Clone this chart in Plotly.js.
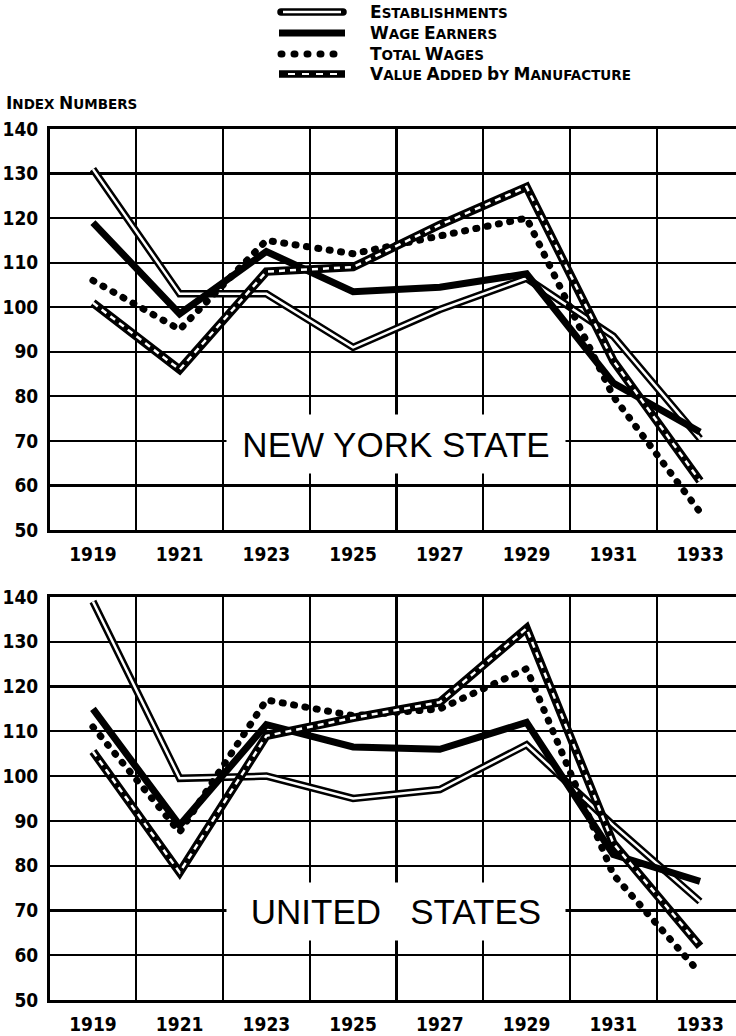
<!DOCTYPE html>
<html><head><meta charset="utf-8">
<script src="https://cdn.plot.ly/plotly-3.0.1.min.js"></script>
<style>html,body{margin:0;padding:0;background:#fff}#chart{width:736px;height:1036px}</style>
</head><body><div id="chart"></div>
<script>
// ---- data ----
const years = [1919, 1921, 1923, 1925, 1927, 1929, 1931, 1933];
const yearLabels = ['1919', '1921', '1923', '1925', '1927', '1929', '1931', '1933'];
const gridYears = [1918, 1920, 1922, 1924, 1926, 1928, 1930, 1932, 1934];
const yTicks = [50, 60, 70, 80, 90, 100, 110, 120, 130, 140];

const nyEstablishments = [131, 103, 103, 91, 99.5, 106.5, 93.5, 70.5];
const nyWageEarners    = [119, 98.5, 112.5, 103.5, 104.5, 107.5, 83, 72];
const nyTotalWages     = [106, 95, 115, 112, 116, 120, 80, 54];
const nyValueAdded     = [101, 86, 108, 109, 118.5, 127, 88, 61];

const usEstablishments = [139, 99.5, 100, 95, 97, 107, 89, 72];
const usWageEarners    = [115, 89, 111.5, 106.5, 106, 112, 82.5, 76.5];
const usTotalWages     = [111, 87.5, 117, 113.5, 115, 124, 78, 56];
const usValueAdded     = [105.5, 78.5, 109, 113, 116.5, 133, 85, 62];

const seriesNames = ['Establishments', 'Wage Earners', 'Total Wages', 'Value Added by Manufacture'];

// ---- layout helpers ----
const W = 736, H = 1036, ML = 50;
const px2x = p => (p - ML) / (W - ML);
const px2y = p => 1 - p / H;
const TICKFONT = {family: 'DejaVu Sans Condensed, Liberation Sans Narrow, DejaVu Sans, sans-serif', size: 19, color: '#000', weight: 700};
const DOT = '1px,10.5px';

function traceSet(xa, ya, est, wage, tot, val) {
  const base = {x: years, xaxis: xa, yaxis: ya, mode: 'lines', hoverinfo: 'skip'};
  return [
    Object.assign({}, base, {y: est, name: seriesNames[0], line: {color: '#000', width: 7.5}}),
    Object.assign({}, base, {y: est, name: seriesNames[0], line: {color: '#fff', width: 2.5}}),
    Object.assign({}, base, {y: wage, name: seriesNames[1], line: {color: '#000', width: 7}}),
    Object.assign({}, base, {y: tot, name: seriesNames[2], line: {color: '#000', width: 7, dash: DOT}}),
    Object.assign({}, base, {y: val, name: seriesNames[3], line: {color: '#000', width: 8.5}}),
    Object.assign({}, base, {y: val, name: seriesNames[3], line: {color: '#fff', width: 2.5, dash: '6px,5px'}})
  ];
}

const data = [].concat(
  traceSet('x', 'y', nyEstablishments, nyWageEarners, nyTotalWages, nyValueAdded),
  traceSet('x2', 'y2', usEstablishments, usWageEarners, usTotalWages, usValueAdded)
);

function xAxis(anchor) {
  return {
    anchor: anchor, domain: [0, 1], range: [1918.01, 1933.83],
    tickmode: 'array', tickvals: years, ticktext: yearLabels,
    showgrid: false, ticks: '', tickfont: TICKFONT, ticklabelstandoff: 5,
    showline: true, linewidth: 3, linecolor: '#000', mirror: true, zeroline: false,
    minor: {tickmode: 'array', tickvals: gridYears, showgrid: true, gridcolor: '#000', gridwidth: 2.2, ticks: ''},
    fixedrange: true
  };
}
function yAxis(anchor, dom) {
  return {
    anchor: anchor, domain: dom, range: [50, 140],
    tickmode: 'array', tickvals: yTicks, ticktext: yTicks.map(String),
    showgrid: true, gridcolor: '#000', gridwidth: 2.2, ticks: '', tickfont: TICKFONT, ticklabelstandoff: 5,
    showline: true, linewidth: 3, linecolor: '#000', zeroline: false, fixedrange: true
  };
}

// small-caps style text
function smallCaps(str, big, small) {
  return str.split(' ').map(w => '<span style="font-size:' + big + 'px">' + w[0] + '</span>' +
    '<span style="font-size:' + small + 'px">' + w.slice(1).toUpperCase() + '</span>').join(' ');
}
const LEGFONT = {family: 'DejaVu Sans, sans-serif', size: 13, color: '#000', weight: 700};

const legendY = [12, 33, 54, 74];
const legX0 = 279, legX1 = 345, legText = 368;
const shapes = [
  {type: 'line', xref: 'paper', yref: 'paper', x0: px2x(legX0 + 2), x1: px2x(legX1 - 2), y0: px2y(legendY[0]), y1: px2y(legendY[0]), line: {color: '#000', width: 7.5}},
  {type: 'line', xref: 'paper', yref: 'paper', x0: px2x(legX0 + 4), x1: px2x(legX1 - 4), y0: px2y(legendY[0]), y1: px2y(legendY[0]), line: {color: '#fff', width: 2.5}},
  {type: 'line', xref: 'paper', yref: 'paper', x0: px2x(legX0), x1: px2x(legX1), y0: px2y(legendY[1]), y1: px2y(legendY[1]), line: {color: '#000', width: 7}},
  {type: 'line', xref: 'paper', yref: 'paper', x0: px2x(legX0 + 2), x1: px2x(legX1), y0: px2y(legendY[2]), y1: px2y(legendY[2]), line: {color: '#000', width: 7, dash: '1px,12px'}},
  {type: 'line', xref: 'paper', yref: 'paper', x0: px2x(legX0), x1: px2x(legX1), y0: px2y(legendY[3]), y1: px2y(legendY[3]), line: {color: '#000', width: 7.5}},
  {type: 'line', xref: 'paper', yref: 'paper', x0: px2x(legX0 + 9), x1: px2x(legX1 - 6), y0: px2y(legendY[3]), y1: px2y(legendY[3]), line: {color: '#fff', width: 2, dash: '7px,7px'}}
];

const annotations = seriesNames.map((n, i) => ({
  xref: 'paper', yref: 'paper', x: px2x(legText), y: px2y(legendY[i]), xanchor: 'left', yanchor: 'middle',
  text: smallCaps(n, 17, 13.5), showarrow: false, font: LEGFONT
}));
annotations.push({
  xref: 'paper', yref: 'paper', x: px2x(4), y: px2y(103), xanchor: 'left', yanchor: 'middle',
  text: smallCaps('Index Numbers', 17, 13.5), showarrow: false, font: LEGFONT
});
const BOXFONT = {family: 'Liberation Sans, Arial, sans-serif', size: 35, color: '#000'};
annotations.push({
  xref: 'x', yref: 'y', x: 1926, y: 69.3, text: 'NEW YORK STATE', showarrow: false,
  bgcolor: '#fff', width: 338, height: 58, borderpad: 0, font: BOXFONT, valign: 'middle'
});
annotations.push({
  xref: 'x2', yref: 'y2', x: 1926, y: 69.8, text: 'UNITED\u00A0\u00A0\u00A0STATES', showarrow: false,
  bgcolor: '#fff', width: 338, height: 57, borderpad: 0, font: BOXFONT, valign: 'middle'
});

const layout = {
  width: W, height: H, margin: {l: ML, r: 0, t: 0, b: 0},
  paper_bgcolor: '#fff', plot_bgcolor: '#fff', showlegend: false,
  xaxis: xAxis('y'), yaxis: yAxis('x', [1 - 530 / H, 1 - 129 / H]),
  xaxis2: xAxis('y2'), yaxis2: yAxis('x2', [1 - 1000 / H, 1 - 597 / H]),
  shapes: shapes, annotations: annotations
};

Plotly.newPlot('chart', data, layout, {displayModeBar: false, staticPlot: true}).then(() => {
  document.querySelectorAll('.scatterlayer .js-line').forEach(p => {
    const d = (p.style.strokeDasharray || '');
    if (d.indexOf('1px') === 0) p.style.strokeLinecap = 'round';
  });
  const sh = document.querySelectorAll('.shapelayer path');
  sh.forEach((p, i) => {
    if (i === 0 || i === 3) p.style.strokeLinecap = 'round';
  });
});
</script></body></html>
